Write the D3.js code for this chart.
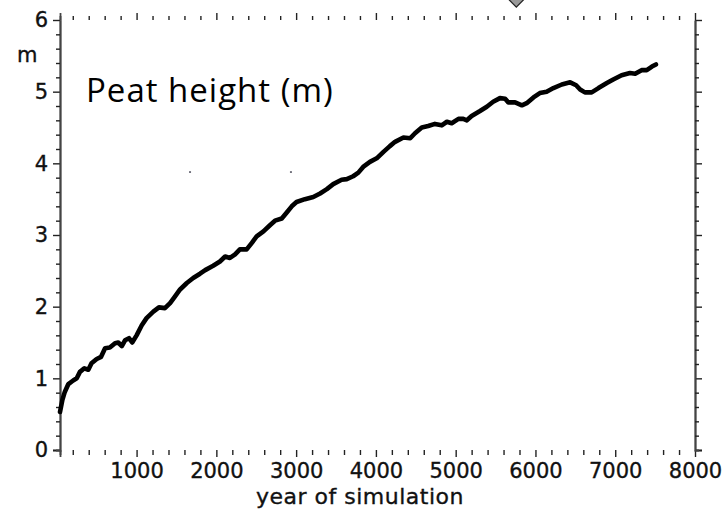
<!DOCTYPE html>
<html>
<head>
<meta charset="utf-8">
<script src="https://cdn.jsdelivr.net/npm/d3@7"></script>
<style>
body { margin: 0; background: #fff; }
svg { display: block; }
.tick text { font-family: "DejaVu Sans", sans-serif; font-size: 21px; fill: #111; stroke: #111; stroke-width: 0.35px; }
</style>
</head>
<body>
<div id="chart"></div>
<script>

// peat height series
var years = [40, 70, 100, 145, 205, 250, 290, 345, 395, 435, 500, 555, 605, 665, 730, 770, 815, 855, 905, 945,
    1000, 1065, 1125, 1210, 1280, 1355, 1420, 1480, 1545, 1630, 1710, 1795, 1860, 1960, 2045, 2110, 2170, 2235, 2295, 2380,
    2445, 2505, 2590, 2675, 2735, 2820, 2880, 2945, 3005, 3110, 3215, 3300, 3385, 3465, 3570, 3635, 3715, 3780, 3840, 3925,
    4010, 4095, 4175, 4240, 4345, 4430, 4490, 4575, 4655, 4740, 4825, 4890, 4950, 5035, 5095, 5140, 5200, 5305, 5390, 5470,
    5555, 5620, 5660, 5745, 5830, 5890, 5975, 6055, 6140, 6225, 6330, 6435, 6510, 6560, 6620, 6705, 6790, 6895, 6975, 7080,
    7185, 7250, 7330, 7395, 7460, 7510];
var heights = [0.53, 0.70, 0.81, 0.92, 0.97, 1.00, 1.09, 1.14, 1.12, 1.21, 1.27, 1.30, 1.42, 1.43, 1.49, 1.50, 1.45, 1.53, 1.56, 1.50,
    1.60, 1.74, 1.84, 1.93, 1.99, 1.98, 2.05, 2.14, 2.24, 2.33, 2.40, 2.46, 2.51, 2.57, 2.63, 2.70, 2.68, 2.73, 2.80, 2.80,
    2.89, 2.98, 3.05, 3.14, 3.20, 3.23, 3.31, 3.40, 3.46, 3.50, 3.53, 3.58, 3.64, 3.71, 3.77, 3.78, 3.82, 3.87, 3.95, 4.02,
    4.07, 4.16, 4.24, 4.30, 4.36, 4.35, 4.42, 4.50, 4.52, 4.55, 4.53, 4.58, 4.56, 4.62, 4.62, 4.60, 4.66, 4.73, 4.79, 4.86,
    4.91, 4.90, 4.85, 4.85, 4.81, 4.84, 4.92, 4.98, 5.00, 5.05, 5.10, 5.13, 5.09, 5.03, 4.99, 4.99, 5.05, 5.12, 5.17, 5.23,
    5.26, 5.25, 5.30, 5.30, 5.35, 5.38];

var xTicks = [1000, 2000, 3000, 4000, 5000, 6000, 7000, 8000];
var yTicks = [0, 1, 2, 3, 4, 5, 6];

// two stray specks and the marker above the frame
var speckYears = [1670, 2935];
var speckHeights = [3.88, 3.88];
var markerYear = 5760;

var width = 722;
var height = 512;

var svg = d3.select('#chart')
    .append('svg')
    .attr('width', width)
    .attr('height', height);

var x = d3.scaleLinear().domain([40, 8000]).range([60, 695]);
var y = d3.scaleLinear().domain([0, 6]).range([450, 20]);

var xMinor = d3.range(200, 8000, 200).filter(d => d % 1000 != 0);
var yMinor = d3.range(0.2, 6, 0.2).filter(d => Math.abs(d - Math.round(d)) > 0.01);

function styleAxis(g) {
    g.select('.domain').attr('stroke', '#444').attr('stroke-width', 1.8);
    g.selectAll('.tick line').attr('stroke', '#222').attr('stroke-width', 1.4);
}

// bottom
svg.append('g').attr('transform', 'translate(0,450)')
    .call(d3.axisBottom(x).tickValues(xTicks).tickSize(7).tickPadding(6).tickFormat(d3.format('d')))
    .call(styleAxis);
svg.append('g').attr('transform', 'translate(0,450)')
    .call(d3.axisBottom(x).tickValues(xMinor).tickSize(5).tickFormat(''))
    .call(styleAxis);

// top
svg.append('g').attr('transform', 'translate(0,20)')
    .call(d3.axisTop(x).tickValues(xTicks).tickSize(7).tickFormat(''))
    .call(styleAxis);
svg.append('g').attr('transform', 'translate(0,20)')
    .call(d3.axisTop(x).tickValues(xMinor).tickSize(4).tickFormat(''))
    .call(styleAxis);

// left
svg.append('g').attr('transform', 'translate(60,0)')
    .call(d3.axisLeft(y).tickValues(yTicks).tickSize(7).tickPadding(5).tickFormat(d3.format('d')))
    .call(styleAxis);
svg.append('g').attr('transform', 'translate(60,0)')
    .call(d3.axisLeft(y).tickValues(yMinor).tickSize(4).tickFormat(''))
    .call(styleAxis);

// right
svg.append('g').attr('transform', 'translate(695,0)')
    .call(d3.axisRight(y).tickValues(yTicks).tickSize(7).tickFormat(''))
    .call(styleAxis);
svg.append('g').attr('transform', 'translate(695,0)')
    .call(d3.axisRight(y).tickValues(yMinor).tickSize(4).tickFormat(''))
    .call(styleAxis);

// drop the outer end ticks of the domain paths
svg.selectAll('.domain').attr('d', function () { return d3.select(this).attr('d').replace(/V[-0-9.]+$/, '').replace(/H[-0-9.]+$/, ''); });

// line
var line = d3.line()
    .x((d, i) => x(years[i]))
    .y(d => y(d));

svg.append('path')
    .datum(heights)
    .attr('d', line)
    .attr('fill', 'none')
    .attr('stroke', '#000')
    .attr('stroke-width', 4.6)
    .attr('stroke-linejoin', 'round')
    .attr('stroke-linecap', 'round');

svg.selectAll('.speck')
    .data(speckYears)
    .enter()
    .append('rect')
    .attr('class', 'speck')
    .attr('x', d => x(d) - 1)
    .attr('y', (d, i) => y(speckHeights[i]) - 0.5)
    .attr('width', 2)
    .attr('height', 1.2)
    .attr('fill', '#223');

svg.append('path')
    .attr('d', d3.symbol().type(d3.symbolSquare).size(290)())
    .attr('transform', `translate(${x(markerYear)},-5) rotate(45)`)
    .attr('fill', '#999')
    .attr('stroke', '#222')
    .attr('stroke-width', 1.2);

// texts
svg.append('text')
    .text('m')
    .attr('x', 17)
    .attr('y', 62)
    .style('font-family', '"DejaVu Sans", sans-serif')
    .style('font-size', '21px')
    .attr('fill', '#111')
    .attr('stroke', '#111')
    .attr('stroke-width', 0.35);

svg.append('text')
    .text('year of simulation')
    .attr('x', 256)
    .attr('y', 504)
    .style('font-family', '"DejaVu Sans", sans-serif')
    .style('font-size', '22px')
    .style('letter-spacing', '0.5px')
    .attr('fill', '#111')
    .attr('stroke', '#111')
    .attr('stroke-width', 0.35);

svg.append('text')
    .text('Peat height (m)')
    .attr('x', 86)
    .attr('y', 102)
    .style('font-family', '"Open Sans", sans-serif')
    .style('font-size', '33px')
    .style('letter-spacing', '1px')
    .attr('fill', '#000');

</script>
</body>
</html>
